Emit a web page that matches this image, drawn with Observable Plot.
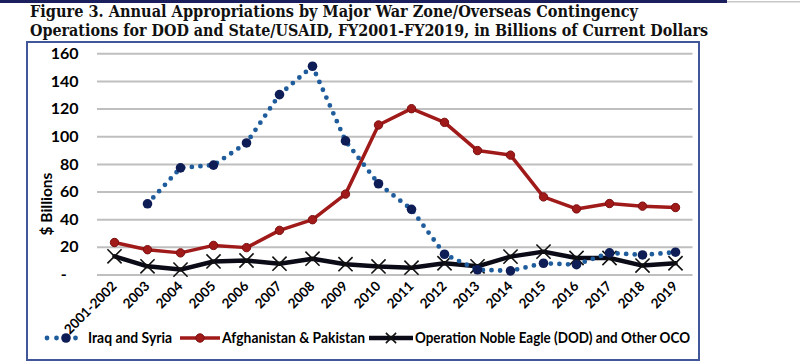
<!DOCTYPE html>
<html>
<head>
<meta charset="utf-8">
<script src="https://cdn.jsdelivr.net/npm/d3@7"></script>
<script src="https://cdn.jsdelivr.net/npm/@observablehq/plot@0.6"></script>
<style>
  html, body { margin: 0; padding: 0; background: #fff; }
  #wrap { position: relative; width: 800px; height: 363px; overflow: hidden; }
  #wrap > * { position: absolute; left: 0; top: 0; }
  #box { left: 26px; top: 41px; width: 670px; height: 316px; border: 2px solid #41579a; }
  .lab { font-family: Lato, "DejaVu Sans Condensed", sans-serif; font-weight: bold; }
</style>
</head>
<body>
<div id="wrap">
  <div id="box"></div>
</div>
<script>
// ---- data ----
const categories = ["2001-2002","2003","2004","2005","2006","2007","2008","2009","2010","2011","2012","2013","2014","2015","2016","2017","2018","2019"];
const iraqSyria = [null,51.5,77.5,79.5,95.5,130.5,151,97,66,47.5,15,3.8,3,8.5,7.5,16,14.5,16.5];
const afghanistanPakistan = [23.5,18.3,16,21.4,19.8,32.3,40,58.5,108.5,120.3,110.4,90,86.7,56.5,47.8,51.7,49.8,48.8];
const nobleEagleOther = [13.5,6.3,3.9,9.8,10.5,8.2,11.8,7.8,6.2,5.3,8.5,6.3,13.3,16.9,12.3,12.3,6.8,8.5];
const seriesNames = ["Iraq and Syria","Afghanistan & Pakistan","Operation Noble Eagle (DOD) and Other OCO"];
const yTicks = [0,20,40,60,80,100,120,140,160];
const titleLines = ["Figure 3. Annual Appropriations by Major War Zone/Overseas Contingency",
                    "Operations for DOD and State/USAID, FY2001-FY2019, in Billions of Current Dollars"];
const yLabel = "$ Billions";

const rows = categories.map((c, i) => ({cat: c, iraq: iraqSyria[i], afg: afghanistanPakistan[i], one: nobleEagleOther[i]}));

const C_BLUE = "#1f5c9c", C_NAVY = "#0f1d57", C_RED = "#a01a1a", C_REDDK = "#7d0f0f", C_BLK = "#0b0b18";
const FONT = 'Lato, "DejaVu Sans Condensed", sans-serif';

const chart = Plot.plot({
  width: 800, height: 363,
  marginTop: 53.3, marginBottom: 88.5, marginLeft: 97, marginRight: 107.5,
  x: {type: "point", domain: categories, padding: 0.5, align: 0.5},
  y: {domain: [0, 160]},
  style: {fontFamily: FONT, fontWeight: "bold", fontSize: "14px", color: "#000", background: "transparent", overflow: "visible"},
  marks: [
    Plot.gridY(yTicks, {stroke: "#bfbfbf", strokeWidth: 2, strokeOpacity: 1}),
    Plot.axisY(yTicks, {tickSize: 0, tickPadding: 19, fontSize: 16, fontWeight: "bold", label: null,
      tickFormat: d => d === 0 ? "-\u00a0\u00a0\u00a0" : String(d)}),
    Plot.axisX({tickSize: 0, tickRotate: -45, tickPadding: 9, fontSize: 13.5, fontWeight: "bold", label: null}),
    Plot.line(rows, {x: "cat", y: "afg", stroke: C_RED, strokeWidth: 3.5}),
    Plot.dot(rows, {x: "cat", y: "afg", r: 4.2, fill: C_RED, stroke: C_REDDK, strokeWidth: 1}),
    Plot.line(rows, {x: "cat", y: "one", stroke: C_BLK, strokeWidth: 4.5}),
    Plot.dot(rows, {x: "cat", y: "one", symbol: "times", r: 6.5, stroke: "#111", strokeWidth: 1.6}),
    Plot.line(rows, {x: "cat", y: "iraq", stroke: C_BLUE, strokeWidth: 4.8, strokeDasharray: "0 8.6", strokeLinecap: "round"}),
    Plot.dot(rows.filter(d => d.iraq != null), {x: "cat", y: "iraq", r: 4.8, fill: C_NAVY})
  ]
});
document.getElementById("wrap").appendChild(chart);

// ---- overlay: title, top rule, y label, legend ----
const ov = d3.select("#wrap").append("svg").attr("width", 800).attr("height", 363).style("pointer-events", "none");
ov.append("rect").attr("x", 0).attr("y", 0).attr("width", 727).attr("height", 3).attr("fill", "#1b1f5e");
ov.append("rect").attr("x", 727).attr("y", 1).attr("width", 73).attr("height", 1.5).attr("fill", "#c8c8c8");
const tl = [{t: titleLines[0], y: 17, w: 608}, {t: titleLines[1], y: 36, w: 678}];
tl.forEach(d => ov.append("text").text(d.t).attr("x", 30).attr("y", d.y)
  .attr("textLength", d.w).attr("lengthAdjust", "spacingAndGlyphs")
  .style("font-family", '"DejaVu Serif Condensed", "DejaVu Serif", serif').style("font-weight", "bold").style("font-size", "17.5px").attr("fill", "#111"));

ov.append("text").attr("class", "lab").text(yLabel)
  .attr("transform", "translate(52,204) rotate(-90)").attr("text-anchor", "middle")
  .style("font-size", "15.5px").attr("fill", "#000");

// legend
const ly = 338;
const lg = ov.append("g");
const legendText = (s, x, w) => lg.append("text").attr("class", "lab").text(s).attr("x", x).attr("y", ly + 5)
  .attr("textLength", w).attr("lengthAdjust", "spacingAndGlyphs").style("font-size", "15px").attr("fill", "#000");
// Iraq and Syria sample
lg.append("line").attr("x1", 47).attr("x2", 85).attr("y1", ly).attr("y2", ly)
  .attr("stroke", C_BLUE).attr("stroke-width", 4.8).attr("stroke-dasharray", "0 9.5").attr("stroke-linecap", "round");
lg.append("circle").attr("cx", 66).attr("cy", ly).attr("r", 4.8).attr("fill", C_NAVY);
legendText(seriesNames[0], 88, 84);
// Afghanistan
lg.append("line").attr("x1", 180).attr("x2", 220).attr("y1", ly).attr("y2", ly).attr("stroke", C_RED).attr("stroke-width", 3.5);
lg.append("circle").attr("cx", 200).attr("cy", ly).attr("r", 4.2).attr("fill", C_RED).attr("stroke", C_REDDK);
legendText(seriesNames[1], 222, 143);
// ONE
lg.append("line").attr("x1", 369).attr("x2", 413).attr("y1", ly).attr("y2", ly).attr("stroke", C_BLK).attr("stroke-width", 4.5);
lg.append("path").attr("d", d3.symbol(d3.symbolTimes, 70)()).attr("transform", `translate(391,${ly})`).attr("stroke", "#111").attr("stroke-width", 1.6).attr("fill", "none");
legendText(seriesNames[2], 415, 275);
</script>
</body>
</html>
